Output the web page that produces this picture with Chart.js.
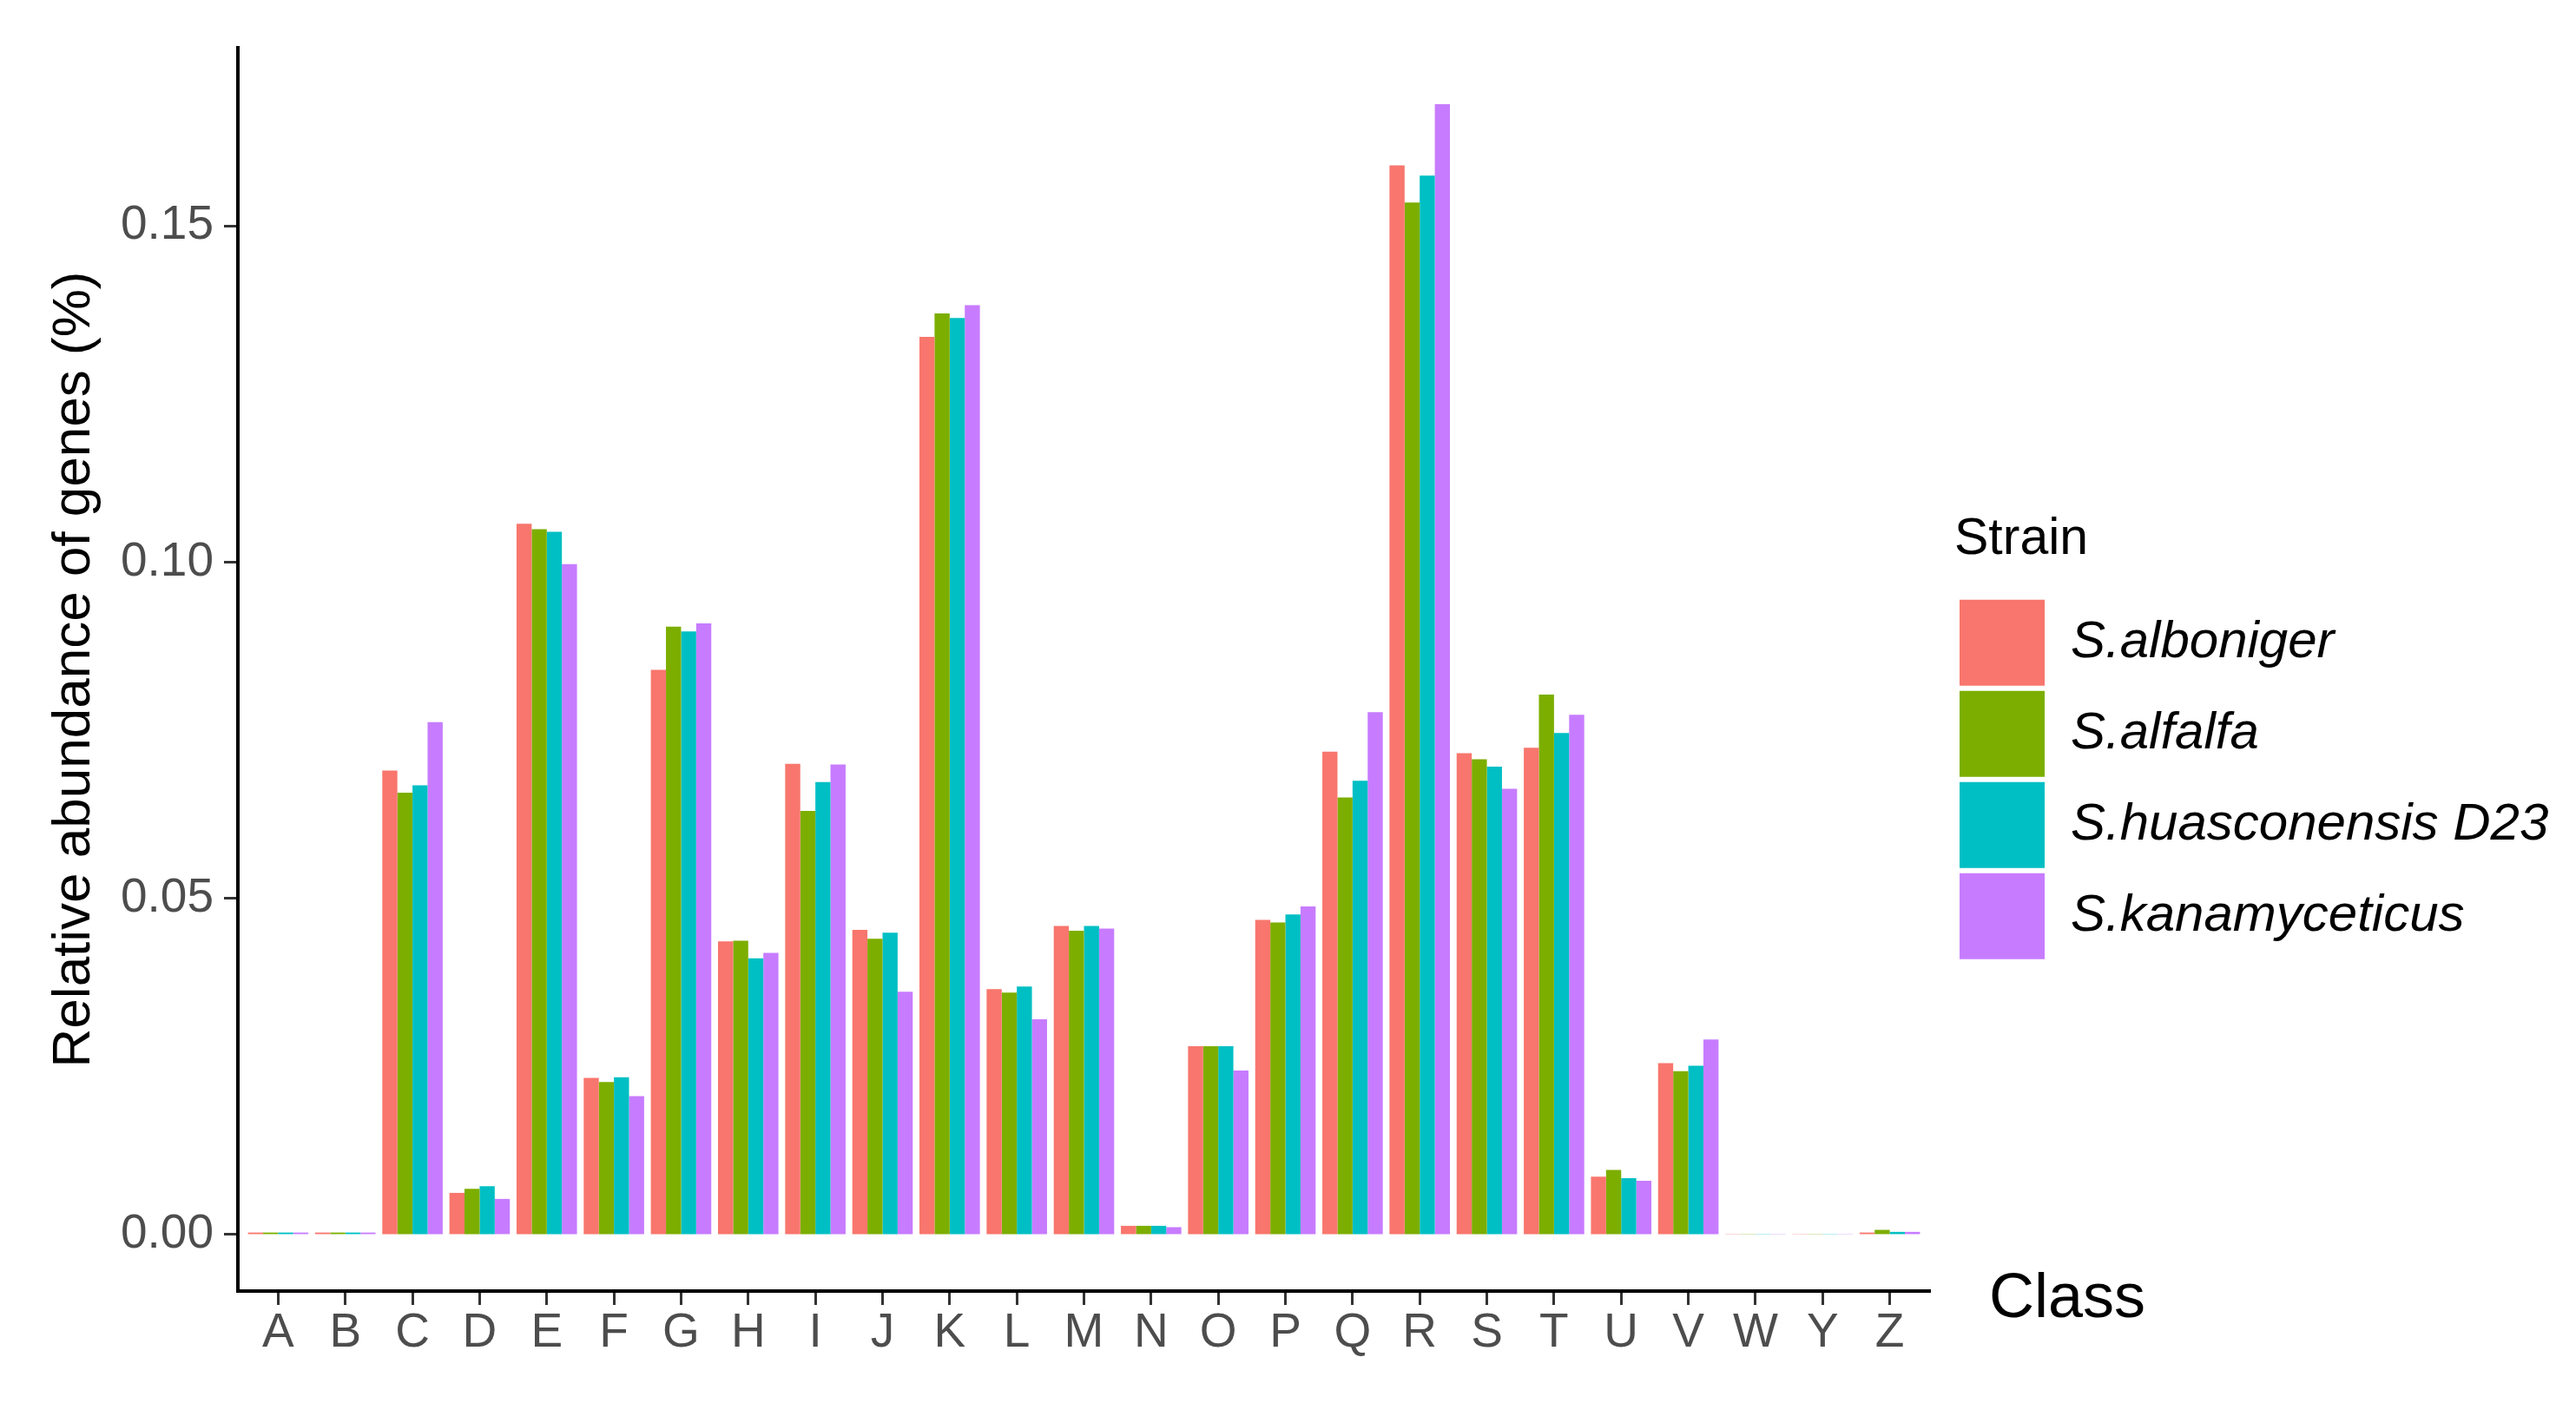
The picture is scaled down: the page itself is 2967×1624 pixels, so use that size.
<!DOCTYPE html>
<html>
<head>
<meta charset="utf-8">
<script src="https://cdn.jsdelivr.net/npm/chart.js@4/dist/chart.umd.min.js"></script>
<style>
  html, body { margin: 0; padding: 0; background: #ffffff; }
  #wrap { width: 2967px; height: 1624px; position: relative; }
</style>
</head>
<body>
<div id="wrap"><canvas id="c" width="2967" height="1624"></canvas></div>
<script>
const categories = ['A','B','C','D','E','F','G','H','I','J','K','L','M','N','O','P','Q','R','S','T','U','V','W','Y','Z'];
const strains = ['S.alboniger', 'S.alfalfa', 'S.huasconensis D23', 'S.kanamyceticus'];
const alboniger     = [0.0003,0.0003,0.0690,0.0062,0.1057,0.0233,0.0840,0.0436,0.0700,0.0453,0.1335,0.0365,0.0459,0.0013,0.0280,0.0468,0.0718,0.1590,0.0716,0.0724,0.0086,0.0255,0.0001,0.0001,0.0003];
const alfalfa       = [0.0003,0.0003,0.0657,0.0068,0.1049,0.0227,0.0904,0.0437,0.0630,0.0440,0.1370,0.0360,0.0452,0.0013,0.0280,0.0464,0.0650,0.1535,0.0707,0.0803,0.0096,0.0243,0.0001,0.0001,0.0007];
const huasconensis  = [0.0003,0.0003,0.0668,0.0072,0.1045,0.0234,0.0897,0.0411,0.0673,0.0449,0.1363,0.0369,0.0459,0.0013,0.0280,0.0476,0.0675,0.1575,0.0696,0.0746,0.0084,0.0251,0.0001,0.0001,0.0004];
const kanamyceticus = [0.0003,0.0003,0.0762,0.0053,0.0997,0.0206,0.0909,0.0419,0.0699,0.0361,0.1382,0.0320,0.0455,0.0011,0.0244,0.0488,0.0777,0.1681,0.0663,0.0773,0.0080,0.0290,0.0001,0.0001,0.0004];
const yTickValues = [0.00, 0.05, 0.10, 0.15];
const colors = ['#F8766D', '#7CAE00', '#00BFC4', '#C77CFF'];

const FAMILY = '"Liberation Sans", Arial, sans-serif';
const LEGEND_FONT = 60;
const BOX_W = 98, BOX_H = 99, LEG_PAD = 6;
const LEGEND_LEFT = 2251;

// measure legend label width to place the legend
const mctx = document.createElement('canvas').getContext('2d');
mctx.font = 'italic ' + LEGEND_FONT + 'px ' + FAMILY;
let maxTextW = 0;
strains.forEach(s => { maxTextW = Math.max(maxTextW, mctx.measureText(s).width); });
const legendWidth = LEG_PAD + BOX_W + LEGEND_FONT / 2 + maxTextW + 10;
const padRight = Math.max(0, 2967 - LEGEND_LEFT - legendWidth);

const series = [alboniger, alfalfa, huasconensis, kanamyceticus];
const datasets = series.map((arr, k) => ({
  label: strains[k],
  data: arr.map((v, i) => ({ x: i, y: v })),
  backgroundColor: colors[k],
  borderWidth: 0,
  categoryPercentage: 0.9,
  barPercentage: 1.0,
  xAxisID: 'x',
  yAxisID: 'y'
}));

const classLabel = {
  id: 'classLabel',
  afterDraw(chart) {
    const ctx = chart.ctx;
    const a = chart.chartArea;
    ctx.save();
    ctx.font = '72px ' + FAMILY;
    ctx.fillStyle = '#000000';
    ctx.textAlign = 'left';
    ctx.textBaseline = 'alphabetic';
    ctx.fillText('Class', a.right + 68, a.bottom + 30);
    ctx.restore();
  }
};

new Chart(document.getElementById('c'), {
  type: 'bar',
  data: { labels: categories, datasets: datasets },
  options: {
    responsive: false,
    animation: false,
    devicePixelRatio: 1,
    layout: { padding: { top: 55, right: padRight, bottom: 0, left: 0 } },
    plugins: {
      tooltip: { enabled: false },
      legend: {
        display: true,
        position: 'right',
        align: 'start',
        maxWidth: 2000,
        labels: {
          boxWidth: BOX_W,
          boxHeight: BOX_H,
          padding: LEG_PAD,
          color: '#000000',
          font: { family: FAMILY, size: LEGEND_FONT, style: 'italic' }
        },
        title: {
          display: true,
          text: 'Strain',
          position: 'start',
          color: '#000000',
          font: { family: FAMILY, size: 59 },
          padding: { top: 537, bottom: 22 }
        }
      }
    },
    scales: {
      x: {
        type: 'linear',
        position: 'bottom',
        min: -0.6,
        max: 24.6,
        offset: false,
        afterBuildTicks: s => { s.ticks = categories.map((_, i) => ({ value: i })); },
        afterFit: s => { s.height = 137; },
        ticks: {
          autoSkip: false,
          maxRotation: 0,
          minRotation: 0,
          padding: 0,
          color: '#4D4D4D',
          font: { family: FAMILY, size: 55 },
          callback: v => categories[v]
        },
        grid: { display: true, offset: false, drawOnChartArea: false, drawTicks: true, tickLength: 16, tickWidth: 3, tickColor: '#333333' },
        border: { display: true, color: '#000000', width: 4 }
      },
      y: {
        type: 'linear',
        position: 'left',
        min: -0.0084,
        max: 0.1765,
        afterBuildTicks: s => { s.ticks = yTickValues.map(v => ({ value: v })); },
        afterFit: s => { s.width = 274; },
        ticks: {
          padding: 12,
          color: '#4D4D4D',
          font: { family: FAMILY, size: 55 },
          callback: v => Number(v).toFixed(2)
        },
        grid: { display: true, offset: false, drawOnChartArea: false, drawTicks: true, tickLength: 16, tickWidth: 3, tickColor: '#333333' },
        border: { display: true, color: '#000000', width: 4 },
        title: {
          display: true,
          text: 'Relative abundance of genes (%)',
          color: '#000000',
          font: { family: FAMILY, size: 62 },
          padding: { top: 49, bottom: 0 }
        }
      },
      yR: {
        type: 'linear',
        position: 'right',
        display: true,
        afterFit: s => { s.width = 28; },
        grid: { display: false, drawTicks: false },
        border: { display: false },
        ticks: { display: false }
      }
    }
  },
  plugins: [classLabel]
});
</script>
</body>
</html>
